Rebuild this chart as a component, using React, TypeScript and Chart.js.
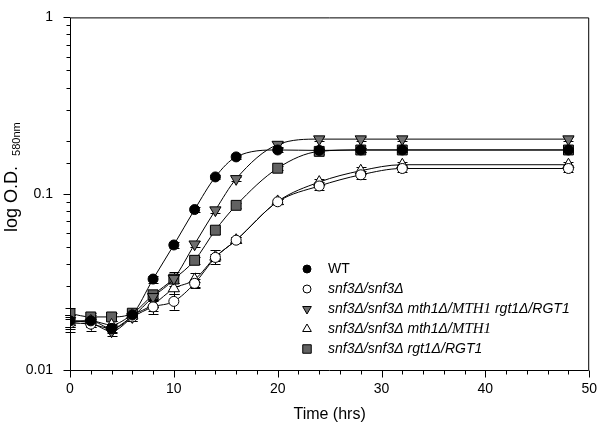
import React, { useEffect, useRef } from 'react';
import { Chart, registerables } from 'chart.js';
Chart.register(...registerables);

// ---- data ----
const times = [0, 2, 4, 6, 8, 10, 12, 14, 16, 20, 24, 28, 32, 48];
const wt = [0.019, 0.019, 0.0172, 0.0205, 0.0328, 0.0512, 0.0813, 0.1245, 0.1617, 0.177, 0.176, 0.177, 0.177, 0.177];
const wtErr = [0.0015, 0.001, 0.0008, 0.001, 0.0015, 0.002, 0.003, 0.004, 0.004, 0.004, 0.004, 0.004, 0.004, 0.004];
const snf3 = [0.0185, 0.0182, 0.0172, 0.02, 0.0228, 0.0245, 0.031, 0.0435, 0.0545, 0.09, 0.1106, 0.128, 0.139, 0.139];
const snf3Err = [0.002, 0.0015, 0.001, 0.001, 0.002, 0.0025, 0.002, 0.002, 0.002, 0.003, 0.006, 0.007, 0.006, 0.006];
const mth1rgt1 = [0.019, 0.0185, 0.0166, 0.02, 0.026, 0.033, 0.0517, 0.0807, 0.1214, 0.19, 0.204, 0.204, 0.204, 0.204];
const mth1rgt1Err = [0.0015, 0.001, 0.001, 0.001, 0.0015, 0.002, 0.002, 0.003, 0.003, 0.005, 0.006, 0.006, 0.006, 0.006];
const mth1 = [0.0186, 0.019, 0.018, 0.0205, 0.0235, 0.029, 0.0326, 0.0438, 0.0545, 0.0904, 0.1164, 0.135, 0.146, 0.146];
const mth1Err = [0.0015, 0.0015, 0.001, 0.001, 0.002, 0.002, 0.003, 0.004, 0.002, 0.003, 0.005, 0.006, 0.006, 0.006];
const rgt1 = [0.0209, 0.02, 0.02, 0.021, 0.0267, 0.0328, 0.0419, 0.0621, 0.0859, 0.1395, 0.1738, 0.177, 0.177, 0.177];
const rgt1Err = [0.0015, 0.001, 0.001, 0.001, 0.0015, 0.003, 0.002, 0.003, 0.003, 0.004, 0.005, 0.005, 0.005, 0.005];

const seriesNames = [
  'WT',
  'snf3Δ/snf3Δ',
  'snf3Δ/snf3Δ mth1Δ/MTH1 rgt1Δ/RGT1',
  'snf3Δ/snf3Δ mth1Δ/MTH1',
  'snf3Δ/snf3Δ rgt1Δ/RGT1',
];
const xTickValues = [0, 10, 20, 30, 40, 50];
const xTickLabels = ['0', '10', '20', '30', '40', '50'];
const yTickValues = [0.01, 0.1, 1];
const yTickLabels = ['0.01', '0.1', '1'];
const xTitle = 'Time (hrs)';
const yTitleMain = 'log O.D.';
const yTitleSub = '580nm';

const SANS = '"Liberation Sans", Arial, sans-serif';
const SERIF = '"Liberation Serif", "Times New Roman", serif';

const styles = [
  { pointStyle: 'circle', radius: 5, bg: '#000000', rotation: 0, legendRadius: 4 },
  { pointStyle: 'circle', radius: 5, bg: '#ffffff', rotation: 0, legendRadius: 4 },
  { pointStyle: 'triangle', radius: 6.5, bg: '#6e6e6e', rotation: 180, legendRadius: 5 },
  { pointStyle: 'triangle', radius: 6.5, bg: '#ffffff', rotation: 0, legendRadius: 5 },
  { pointStyle: 'rect', radius: 7, bg: '#626262', rotation: 0, legendRadius: 6 },
];

const values = [wt, snf3, mth1rgt1, mth1, rgt1];
const errors = [wtErr, snf3Err, mth1rgt1Err, mth1Err, rgt1Err];

const errorBarsPlugin = {
  id: 'errorBars',
  beforeDatasetsDraw(chart: any) {
    const { ctx, scales } = chart;
    const x = scales.x, y = scales.y;
    ctx.save();
    ctx.strokeStyle = '#000';
    ctx.lineWidth = 1;
    chart.data.datasets.forEach((ds: any) => {
      ds.data.forEach((p: any, i: number) => {
        const e = ds.errors[i];
        const px = Math.round(x.getPixelForValue(p.x)) + 0.5;
        const t = y.getPixelForValue(p.y + e);
        const b = y.getPixelForValue(p.y - e);
        ctx.beginPath();
        ctx.moveTo(px, t); ctx.lineTo(px, b);
        ctx.moveTo(px - 5, Math.round(t) + 0.5); ctx.lineTo(px + 5, Math.round(t) + 0.5);
        ctx.moveTo(px - 5, Math.round(b) + 0.5); ctx.lineTo(px + 5, Math.round(b) + 0.5);
        ctx.stroke();
      });
    });
    ctx.restore();
  },
};

function drawSymbol(ctx: CanvasRenderingContext2D, st: any, x: number, y: number) {
  const r = st.legendRadius;
  ctx.beginPath();
  if (st.pointStyle === 'circle') {
    ctx.arc(x, y, r, 0, Math.PI * 2);
  } else if (st.pointStyle === 'rect') {
    const s = r * Math.SQRT1_2;
    ctx.rect(x - s, y - s, 2 * s, 2 * s);
  } else {
    const dir = st.rotation === 180 ? -1 : 1;
    const h = Math.sin(Math.PI / 3) * r;
    ctx.moveTo(x, y - dir * r);
    ctx.lineTo(x + h, y + dir * r / 2);
    ctx.lineTo(x - h, y + dir * r / 2);
    ctx.closePath();
  }
  ctx.fill();
  ctx.stroke();
}

const framePlugin = {
  id: 'frame',
  afterDraw(chart: any) {
    const { ctx, chartArea: a, scales } = chart;
    const x = scales.x, y = scales.y;
    const L = a.left + 0.5, R = a.right - 0.5, T = a.top + 0.5, B = a.bottom + 0.5;
    ctx.save();
    ctx.strokeStyle = '#000';
    ctx.lineWidth = 1;
    ctx.beginPath();
    ctx.moveTo(L, T); ctx.lineTo(R, T); ctx.lineTo(R, B); ctx.lineTo(L, B); ctx.closePath();
    x.ticks.forEach((tk: any) => {
      const px = Math.round(x.getPixelForValue(tk.value)) + 0.5;
      const major = xTickValues.includes(tk.value);
      ctx.moveTo(px, B); ctx.lineTo(px, B + (major ? 7 : 4));
    });
    y.ticks.forEach((tk: any) => {
      const py = Math.round(y.getPixelForValue(tk.value)) + 0.5;
      const major = yTickValues.some((v) => Math.abs(Math.log10(v) - Math.log10(tk.value)) < 1e-6);
      ctx.moveTo(L, py); ctx.lineTo(L - (major ? 7 : 4), py);
    });
    ctx.stroke();

    // y title
    ctx.fillStyle = '#000';
    ctx.translate(17, 232);
    ctx.rotate(-Math.PI / 2);
    ctx.textBaseline = 'alphabetic';
    ctx.textAlign = 'left';
    ctx.font = `18px ${SANS}`;
    ctx.fillText(yTitleMain, 0, 0);
    const w = ctx.measureText(yTitleMain + '  ').width;
    ctx.font = `11px ${SANS}`;
    ctx.fillText(yTitleSub, w, 3);
    ctx.restore();

    // legend
    ctx.save();
    const sx = 307, tx = 328;
    seriesNames.forEach((name, i) => {
      const cy = 269 + i * 20;
      const st = styles[i];
      ctx.fillStyle = st.bg;
      ctx.strokeStyle = '#000';
      ctx.lineWidth = 1;
      drawSymbol(ctx, st, sx, cy);
      ctx.fillStyle = '#000';
      ctx.textBaseline = 'middle';
      ctx.textAlign = 'left';
      let cx = tx;
      if (i === 0) {
        ctx.font = `14px ${SANS}`;
        ctx.fillText(name, cx, cy);
      } else {
        name.split(/(MTH1)/).forEach((seg) => {
          if (!seg) return;
          ctx.font = seg === 'MTH1' ? `italic 15px ${SERIF}` : `italic 14px ${SANS}`;
          ctx.fillText(seg, cx, cy);
          cx += ctx.measureText(seg).width;
        });
      }
    });
    ctx.restore();
  },
};

export default function App() {
  const ref = useRef<HTMLCanvasElement>(null);
  useEffect(() => {
    if (!ref.current) return;
    const datasets = values.map((vals, i) => ({
      label: seriesNames[i],
      data: vals.map((v, j) => ({ x: times[j], y: v })),
      errors: errors[i],
      borderColor: '#000',
      borderWidth: 1,
      backgroundColor: styles[i].bg,
      pointBackgroundColor: styles[i].bg,
      pointBorderColor: '#000',
      pointBorderWidth: 1,
      pointStyle: styles[i].pointStyle,
      pointRadius: styles[i].radius,
      pointRotation: styles[i].rotation,
      cubicInterpolationMode: 'monotone',
      fill: false,
    }));
    const chart = new Chart(ref.current, {
      type: 'line',
      data: { datasets: datasets as any },
      options: {
        animation: false,
        responsive: false,
        devicePixelRatio: 1,
        layout: { padding: { top: 6, right: 9, left: 0, bottom: 0 } },
        plugins: { legend: { display: false }, tooltip: { enabled: false } },
        scales: {
          x: {
            type: 'linear',
            min: 0,
            max: 50,
            grid: { display: false },
            border: { display: false },
            afterFit: (s: any) => { s.height = 55; },
            ticks: {
              stepSize: 2,
              autoSkip: false,
              maxRotation: 0,
              padding: 3,
              color: '#000',
              font: { size: 14, family: SANS },
              callback: (v: any) => {
                const i = xTickValues.indexOf(Number(v));
                return i >= 0 ? xTickLabels[i] : '';
              },
            },
            title: {
              display: true,
              text: xTitle,
              color: '#000',
              font: { size: 16, family: SANS },
              padding: { top: 0, bottom: 1 },
            },
          },
          y: {
            type: 'logarithmic',
            min: 0.01,
            max: 1,
            grid: { display: false },
            border: { display: false },
            afterFit: (s: any) => { s.width = 70; },
            ticks: {
              autoSkip: false,
              padding: 9,
              color: '#000',
              font: { size: 14, family: SANS },
              callback: (v: any) => {
                const i = yTickValues.findIndex((t) => Math.abs(Math.log10(t) - Math.log10(Number(v))) < 1e-6);
                return i >= 0 ? yTickLabels[i] : '';
              },
            },
          },
        },
      },
      plugins: [errorBarsPlugin, framePlugin],
    });
    return () => chart.destroy();
  }, []);
  return (
    <div style={{ position: 'fixed', left: 0, top: 0, width: 600, height: 425, background: '#fff' }}>
      <canvas ref={ref} width={600} height={425} />
    </div>
  );
}
